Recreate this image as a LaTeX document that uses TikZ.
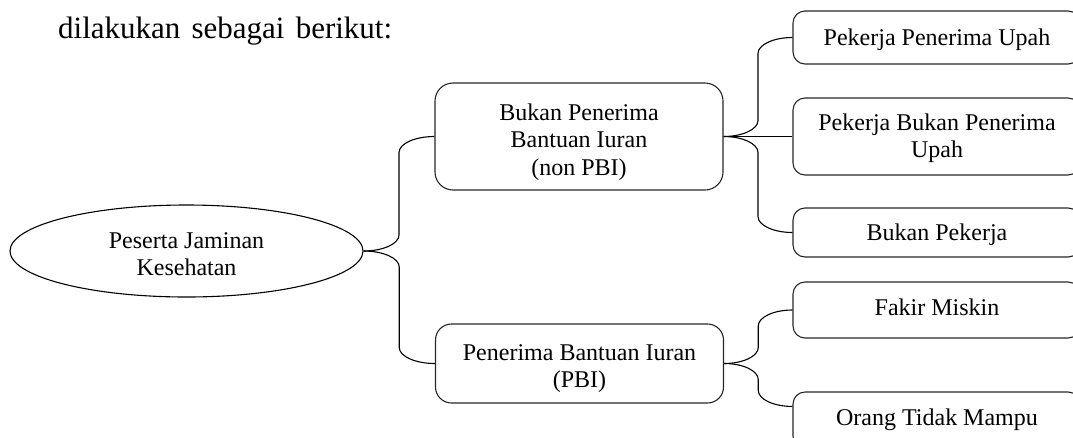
\documentclass[tikz,border=0pt]{standalone}
\usepackage{fontspec}
\setmainfont{Liberation Serif}
\usetikzlibrary{shapes.geometric,calc}
% fixed first-line height so text blocks can be placed by their top edge
\newcommand\lnhead{\rule{0pt}{18pt}}
\begin{document}
\begin{tikzpicture}[x=1pt,y=-1pt,
  link/.style={draw=black, line width=1.1pt},
  elbow/.style={to path={let \p1=(\tikztostart), \p2=(\tikztotarget),
      \n1={(\x1+\x2)/2}, \n2={sign(\y2-\y1)} in
      .. controls ({\x1+0.552*(\n1-\x1)}, \y1) and ({\n1*1pt}, {\y1+\n2*7.2pt}) .. ({\n1*1pt}, {\y1+\n2*16pt})
      -- ({\n1*1pt}, {\y2-\n2*16pt})
      .. controls ({\n1*1pt}, {\y2-\n2*7.2pt}) and ({\x2-0.552*(\x2-\n1)}, \y2) .. (\p2)}},
  rootshape/.style={ellipse, draw=black, line width=1.1pt, inner sep=0pt,
      minimum width=353pt, minimum height=92pt},
  midbox/.style={rectangle, draw=black!85, line width=1.1pt, inner sep=0pt,
      minimum width=288pt},
  leafbox/.style={rectangle, draw=black!85, line width=1.1pt, inner sep=0pt,
      rounded corners=12pt, minimum width=287pt},
  lbl/.style={inner sep=0pt, anchor=north, align=center,
      font=\fontsize{24pt}{27.5pt}\selectfont},
]
\useasboundingbox (0,0) rectangle (1073,437);
\clip (0,0) rectangle (1073,437);

% heading line
\node[anchor=base west, inner sep=0pt, font=\fontsize{31pt}{35pt}\selectfont] (head) at (58,38)
  {\makebox[334pt][s]{dilakukan sebagai berikut:}};

% root
\node[rootshape] (e) at (186.5,251) {};
\node[lbl] (te) at (186.5,230) {\lnhead Peserta Jaminan\\Kesehatan};

% second level
\node[midbox, rounded corners=18pt, minimum height=107pt] (b1) at (579,136.5) {};
\node[lbl] (tb1) at (579,102) {\lnhead Bukan Penerima\\Bantuan Iuran\\(non PBI)};
\node[midbox, rounded corners=16pt, minimum height=79pt] (b2) at (579.5,363.5) {};
\node[lbl] (tb2) at (579.5,342) {\lnhead Penerima Bantuan Iuran\\(PBI)};

% leaves
\node[leafbox, minimum height=53pt] (c1) at (936.5,37.5) {};
\node[lbl] (tc1) at (937,27) {\lnhead Pekerja Penerima Upah};
\node[leafbox, minimum height=77pt] (c2) at (936.5,136.5) {};
\node[lbl] (tc2) at (937,112) {\lnhead Pekerja Bukan Penerima\\Upah};
\node[leafbox, minimum height=49pt] (c3) at (936.5,232.5) {};
\node[lbl] (tc3) at (937,222) {\lnhead Bukan Pekerja};
\node[leafbox, minimum height=56pt] (c4) at (936.5,310) {};
\node[lbl] (tc4) at (937,297) {\lnhead Fakir Miskin};
\node[leafbox, minimum height=56pt] (c5) at (936.5,420) {};
\node[lbl] (tc5) at (937,407) {\lnhead Orang Tidak Mampu};
\coordinate (c5in) at ($(c5.north west)+(0,15)$);

% connectors
\draw[link] (e.east) to[elbow] (b1.west);
\draw[link] (e.east) to[elbow] (b2.west);
\draw[link] (b1.east) to[elbow] (c1.west);
\draw[link] (b1.east) -- (c2.west);
\draw[link] (b1.east) to[elbow] (c3.west);
\draw[link] (b2.east) to[elbow] (c4.west);
\draw[link] (b2.east) to[elbow] (c5in);
\end{tikzpicture}
\end{document}
